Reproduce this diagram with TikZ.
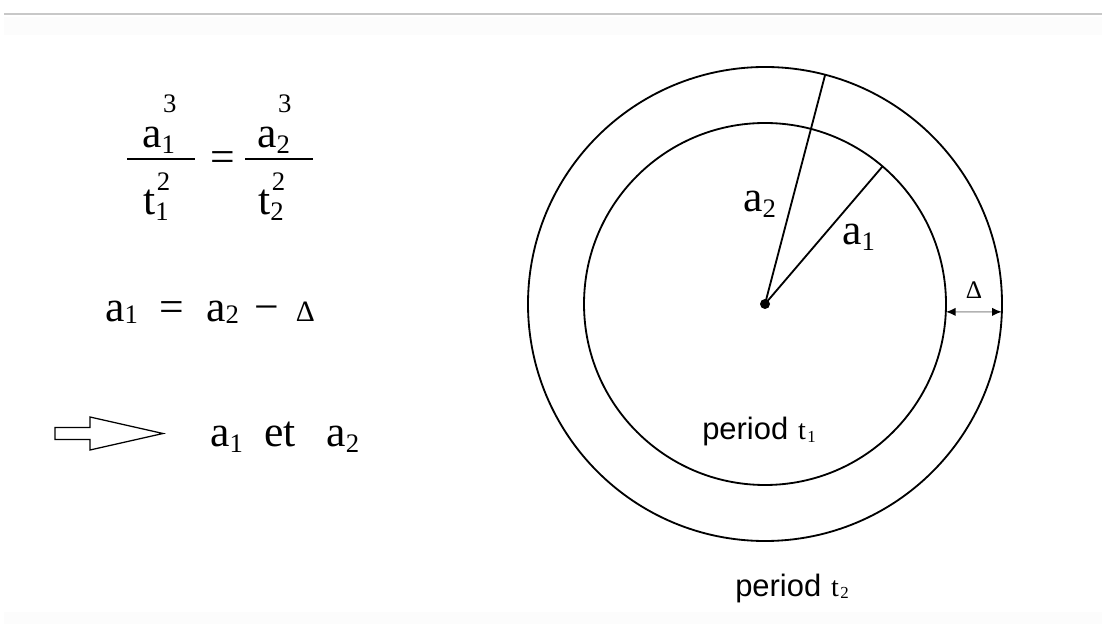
\documentclass[tikz,border=0pt]{standalone}
\usepackage{fontspec}
\setmainfont{Liberation Serif}
\setsansfont{Liberation Sans}
\usetikzlibrary{calc,arrows.meta}
\definecolor{rulecolor}{HTML}{C8C8C8}
\definecolor{bandcolor}{HTML}{FCFCFC}
% small lowered / raised indices
\newcommand{\low}[2][-4pt]{\raisebox{#1}{\fontsize{19}{19}\selectfont#2}}
\newcommand{\lowsup}[4]{#1\rlap{\low[-4pt]{#2}}\raisebox{#4}{\fontsize{19}{19}\selectfont\kern1pt#3}}

\begin{document}
\begin{tikzpicture}[x=0.025cm, y=0.025cm,
    every node/.style={inner sep=0pt},
    ring/.style={line width=1.3pt},
    mathtext/.style={font=\fontsize{31}{36}\selectfont},
    periodtext/.style={font=\fontsize{22}{26}\selectfont\sffamily}]
    \useasboundingbox (0,0) rectangle (1102,624);

    % page rule and faint bands
    \fill[bandcolor] (4,589) rectangle (1102,607);
    \fill[bandcolor] (4,0) rectangle (1102,12);
    \draw[rulecolor, line width=1.4pt] (4,610) -- (1102,610);

    % Kepler's law (left top)
    \node[mathtext, anchor=base west] (anum) at (142,476) {\lowsup{a}{1}{3}{25pt}};
    \node[mathtext, anchor=base west] (tden) at (143,409) {\lowsup{t}{1}{2}{17.5pt}};
    \draw[line width=1.4pt] (127,465) -- (195,465);
    \node[mathtext] (eq) at (223,462) {=};
    \node[mathtext, anchor=base west] (anumtwo) at (257,476) {\lowsup{a}{2}{3}{25pt}};
    \node[mathtext, anchor=base west] (tdentwo) at (258,409) {\lowsup{t}{2}{2}{17.5pt}};
    \draw[line width=1.4pt] (245,465) -- (313,465);

    % Formulas (left)
    \node[mathtext, anchor=base west] (relation) at (105,302)
        {a\low[-1pt]{1}\hspace{15pt}=\hspace{16pt}a\low[-1pt]{2}\hspace{11pt}−\hspace{12pt}{\fontsize{21}{21}\selectfont Δ}};
    \draw[line width=0.9pt, fill=white]
        (55,184.5) -- (90,184.5) -- (90,174) -- (163,190.5) -- (90,207) -- (90,196.5) -- (55,196.5) -- cycle;
    \node[mathtext, anchor=base west] (result) at (210,177)
        {a\low{1}\hspace{15pt}et\hspace{22pt}a\low{2}};

    % Orbits (right)
    \coordinate (O) at (765,320);
    \draw[ring] (O) circle[radius=237];
    \draw[ring] (O) circle[radius=181];
    \fill (O) circle[radius=5];

    \coordinate (outerpt) at ($(O)+(75.3:237)$);
    \coordinate (innerpt) at ($(O)+(49.5:181)$);
    \draw[ring] (O) -- (outerpt);
    \draw[ring] (O) -- (innerpt);
    \node[mathtext, anchor=base west] (atwo) at (743,412) {a\low{2}};
    \node[mathtext, anchor=base west] (aone) at (842,379) {a\low{1}};

    % gap between the orbits
    \coordinate (gapin) at ($(O)+(-2.5:181)$);
    \coordinate (gapout) at ($(O)+(-1.9:237)$);
    \draw[gray!60, line width=1pt, {Latex[length=7pt,width=6pt,black]}-{Latex[length=7pt,width=6pt,black]}]
        (gapin) -- (gapout);
    \node[font=\fontsize{18}{20}\selectfont] (delta) at (974,334) {Δ};

    % periods
    \node[periodtext, anchor=base west] (tone) at (702,184)
        {period\hspace{7pt}{\rmfamily\fontsize{20}{24}\selectfont t\raisebox{-2pt}{\fontsize{12}{12}\selectfont\kern1pt 1}}};
    \node[periodtext, anchor=base west] (ttwo) at (735,28)
        {period\hspace{7pt}{\rmfamily\fontsize{20}{24}\selectfont t\raisebox{-2pt}{\fontsize{12}{12}\selectfont\kern1pt 2}}};
\end{tikzpicture}
\end{document}
